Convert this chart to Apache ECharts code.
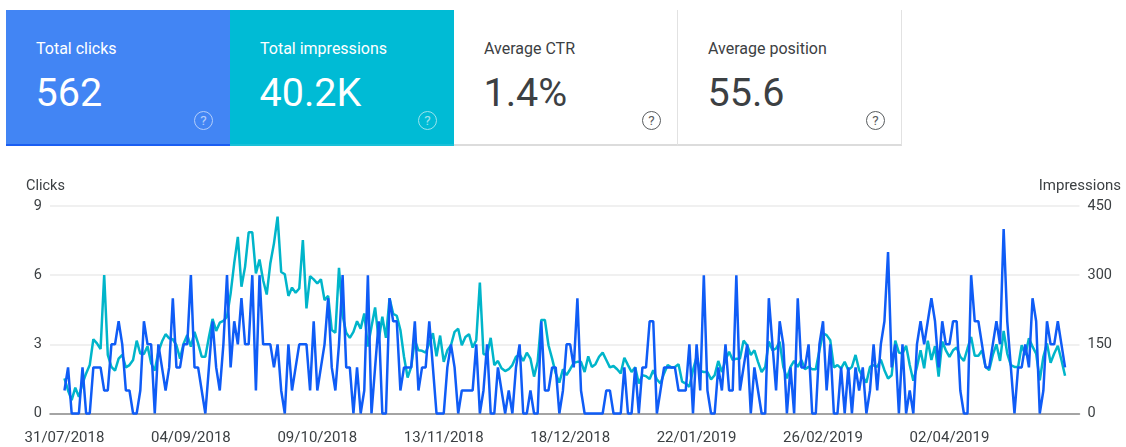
<!DOCTYPE html>
<html>
<head>
<meta charset="utf-8">
<title>Search performance</title>
<script src="https://cdn.jsdelivr.net/npm/echarts@6/dist/echarts.min.js"></script>
<style>
html, body { margin: 0; padding: 0; background: #fff; overflow: hidden; }
body { font-family: Roboto, sans-serif; }
#box { position: absolute; left: 0; top: 0; width: 1126px; height: 447px; }
#cards { position: absolute; left: 6px; top: 10px; display: flex; }
.card { position: relative; box-sizing: border-box; width: 224px; height: 136px; color: #3c4043; background: #fff;
    border-right: 1.5px solid #e2e2e2; border-bottom: 2px solid #dcdcdc; }
.card.c0 { background: #4285f4; color: #fff; border-right: 0; border-bottom-color: #1a5ef2; }
.card.c1 { background: #00bbd5; color: #fff; border-right: 0; border-bottom-color: #19c0d8; }
.card .t { position: absolute; left: 30px; top: 30px; font-size: 16px; line-height: 18px; white-space: nowrap; }
.card .v { position: absolute; left: 29.5px; top: 60px; font-size: 39.5px; line-height: 46px; white-space: nowrap; }
.card .h { position: absolute; left: 188px; top: 101px; width: 19px; height: 19px; box-sizing: border-box; border-radius: 50%;
    border: 1.6px solid currentColor; font-size: 13.5px; line-height: 16px; text-align: center; opacity: .85; }
.card.c0 .h, .card.c1 .h { opacity: .6; }
</style>
</head>
<body>
<div id="box"></div>
<div id="cards"></div>
<script>
var cardTitles = ['Total clicks', 'Total impressions', 'Average CTR', 'Average position'];
var cardValues = ['562', '40.2K', '1.4%', '55.6'];

var tickLabels = ['31/07/2018', '04/09/2018', '09/10/2018', '13/11/2018', '18/12/2018', '22/01/2019', '26/02/2019', '02/04/2019'];

// one value per day from 31/07/2018
var clicks = [
    1,2,0,0,0,2,0,0,2,2,
    2,1,1,3,3,4,3,1,1,0,
    0,1,4,3,3,0,3,2,1,2,
    5,2,2,3,3,6,2,2,1,0,
    2,4,2,1,3,6,2,4,3,5,
    3,3,6,1,6,3,3,3,2,3,
    1,0,3,1,2,3,3,3,1,4,
    1,2,3,5,2,1,3,6,2,2,
    0,2,0,1,6,0,2,4,0,0,
    5,4,4,1,2,2,2,4,1,2,
    2,4,2,0,0,0,2,3,2,0,
    1,1,1,1,3,0,1,3,0,0,
    2,1,0,1,0,2,3,0,0,1,
    0,0,4,1,1,2,2,0,1,3,
    3,2,5,1,0,0,0,0,0,0,
    1,1,0,0,0,2,0,0,2,0,
    2,2,4,4,0,1,2,2,2,2,
    1,1,1,3,0,3,1,6,1,0,
    0,2,1,3,1,1,6,1,2,3,
    0,2,1,0,0,5,3,1,4,3,
    0,2,0,5,2,2,3,0,0,3,
    4,1,3,0,0,2,0,2,0,2,
    1,2,0,1,3,1,3,4,7,2,
    3,0,3,0,1,0,3,4,3,4,
    5,4,2,4,3,3,4,4,1,0,
    0,6,4,4,3,2,2,3,4,3,
    8,4,2,0,2,2,3,2,5,4,
    0,1,4,3,3,4,3,2
];

var impressions = [
    76,50,29,56,36,65,87,105,161,152,
    140,300,127,101,93,119,127,100,105,116,
    158,130,129,146,109,93,134,156,172,163,
    161,148,119,152,170,145,177,152,123,123,
    166,205,179,197,201,210,260,326,383,275,
    318,393,393,304,334,289,258,326,369,427,
    307,302,255,273,262,271,376,228,298,291,
    282,291,246,255,181,175,316,213,175,164,
    177,200,184,217,145,188,230,159,210,164,
    250,216,212,181,123,78,101,159,137,136,
    132,152,174,124,169,112,137,148,177,184,
    148,166,172,143,159,284,129,127,164,105,
    114,98,92,96,105,123,128,114,132,119,
    80,112,203,203,148,119,87,67,96,83,
    96,110,112,112,90,124,101,107,123,132,
    116,100,103,96,87,121,105,90,100,65,
    83,81,75,94,74,65,87,105,100,101,
    107,69,65,58,94,123,92,90,90,74,
    83,114,90,116,134,116,119,119,158,148,
    127,137,112,90,101,156,137,141,156,101,
    76,101,114,101,116,96,101,96,96,137,
    174,170,159,100,105,98,112,94,101,127,
    94,80,67,101,105,101,117,94,76,83,
    158,132,130,147,105,71,101,137,98,158,
    116,146,80,156,137,123,137,143,123,114,
    141,166,125,125,137,101,94,127,150,114,
    179,130,105,101,101,148,127,163,145,130,
    72,123,152,110,130,147,116,82
];

var clicksColor = '#0f5cf6';
var impressionsColor = '#00b5ca';
var textColor = '#3c4043';

// empty days either side so the grid lines run past the data
var padDays = 4;

function pad2(n) {
    return (n < 10 ? '0' : '') + n;
}

var days = [];
for (var i = -padDays; i < clicks.length + padDays; i++) {
    var d = new Date(Date.UTC(2018, 6, 31 + i));
    days.push(pad2(d.getUTCDate()) + '/' + pad2(d.getUTCMonth() + 1) + '/' + d.getUTCFullYear());
}

function padded(values) {
    var out = [];
    for (var i = 0; i < padDays; i++) out.push(null);
    return out.concat(values);
}

var html = '';
for (var c = 0; c < cardTitles.length; c++) {
    html += '<div class="card c' + c + '"><div class="t">' + cardTitles[c] + '</div><div class="v">' + cardValues[c] +
        '</div><div class="h">?</div></div>';
}
document.getElementById('cards').innerHTML = html;

var myChart = echarts.init(document.getElementById('box'));

function yAxisOf(interval, max, side) {
    return {
        type: 'value',
        position: side,
        min: 0,
        max: max,
        interval: interval,
        axisLine: { show: false },
        axisTick: { show: false },
        axisLabel: { color: textColor, fontFamily: 'Roboto', fontSize: 14.5, margin: 8 },
        splitLine: { show: side === 'left', lineStyle: { color: '#ebebeb', width: 1.5 } }
    };
}

var option = {
    animation: false,
    textStyle: { fontFamily: 'Roboto' },
    grid: { left: 50, right: 46.5, top: 206, height: 207.5 },
    xAxis: {
        type: 'category',
        data: days,
        boundaryGap: false,
        axisLine: { lineStyle: { color: '#8a8a8a', width: 1.5 } },
        axisTick: { show: false },
        axisLabel: {
            color: textColor,
            fontFamily: 'Roboto',
            fontSize: 15,
            margin: 17,
            hideOverlap: false,
            interval: function (index, value) {
                return tickLabels.indexOf(value) >= 0;
            }
        }
    },
    yAxis: [yAxisOf(3, 9, 'left'), yAxisOf(150, 450, 'right')],
    graphic: [
        { type: 'text', left: 26, top: 179, style: { text: 'Clicks', fill: textColor, font: '14.5px Roboto' } },
        { type: 'text', right: 5, top: 179, style: { text: 'Impressions', fill: textColor, font: '15px Roboto' } }
    ],
    series: [{
        name: 'Impressions',
        type: 'line',
        yAxisIndex: 1,
        data: padded(impressions),
        showSymbol: false,
        clip: false,
        lineStyle: { color: impressionsColor, width: 2.5 }
    }, {
        name: 'Clicks',
        type: 'line',
        yAxisIndex: 0,
        data: padded(clicks),
        showSymbol: false,
        clip: false,
        lineStyle: { color: clicksColor, width: 2.5 }
    }]
};
myChart.setOption(option);
</script>
</body>
</html>
